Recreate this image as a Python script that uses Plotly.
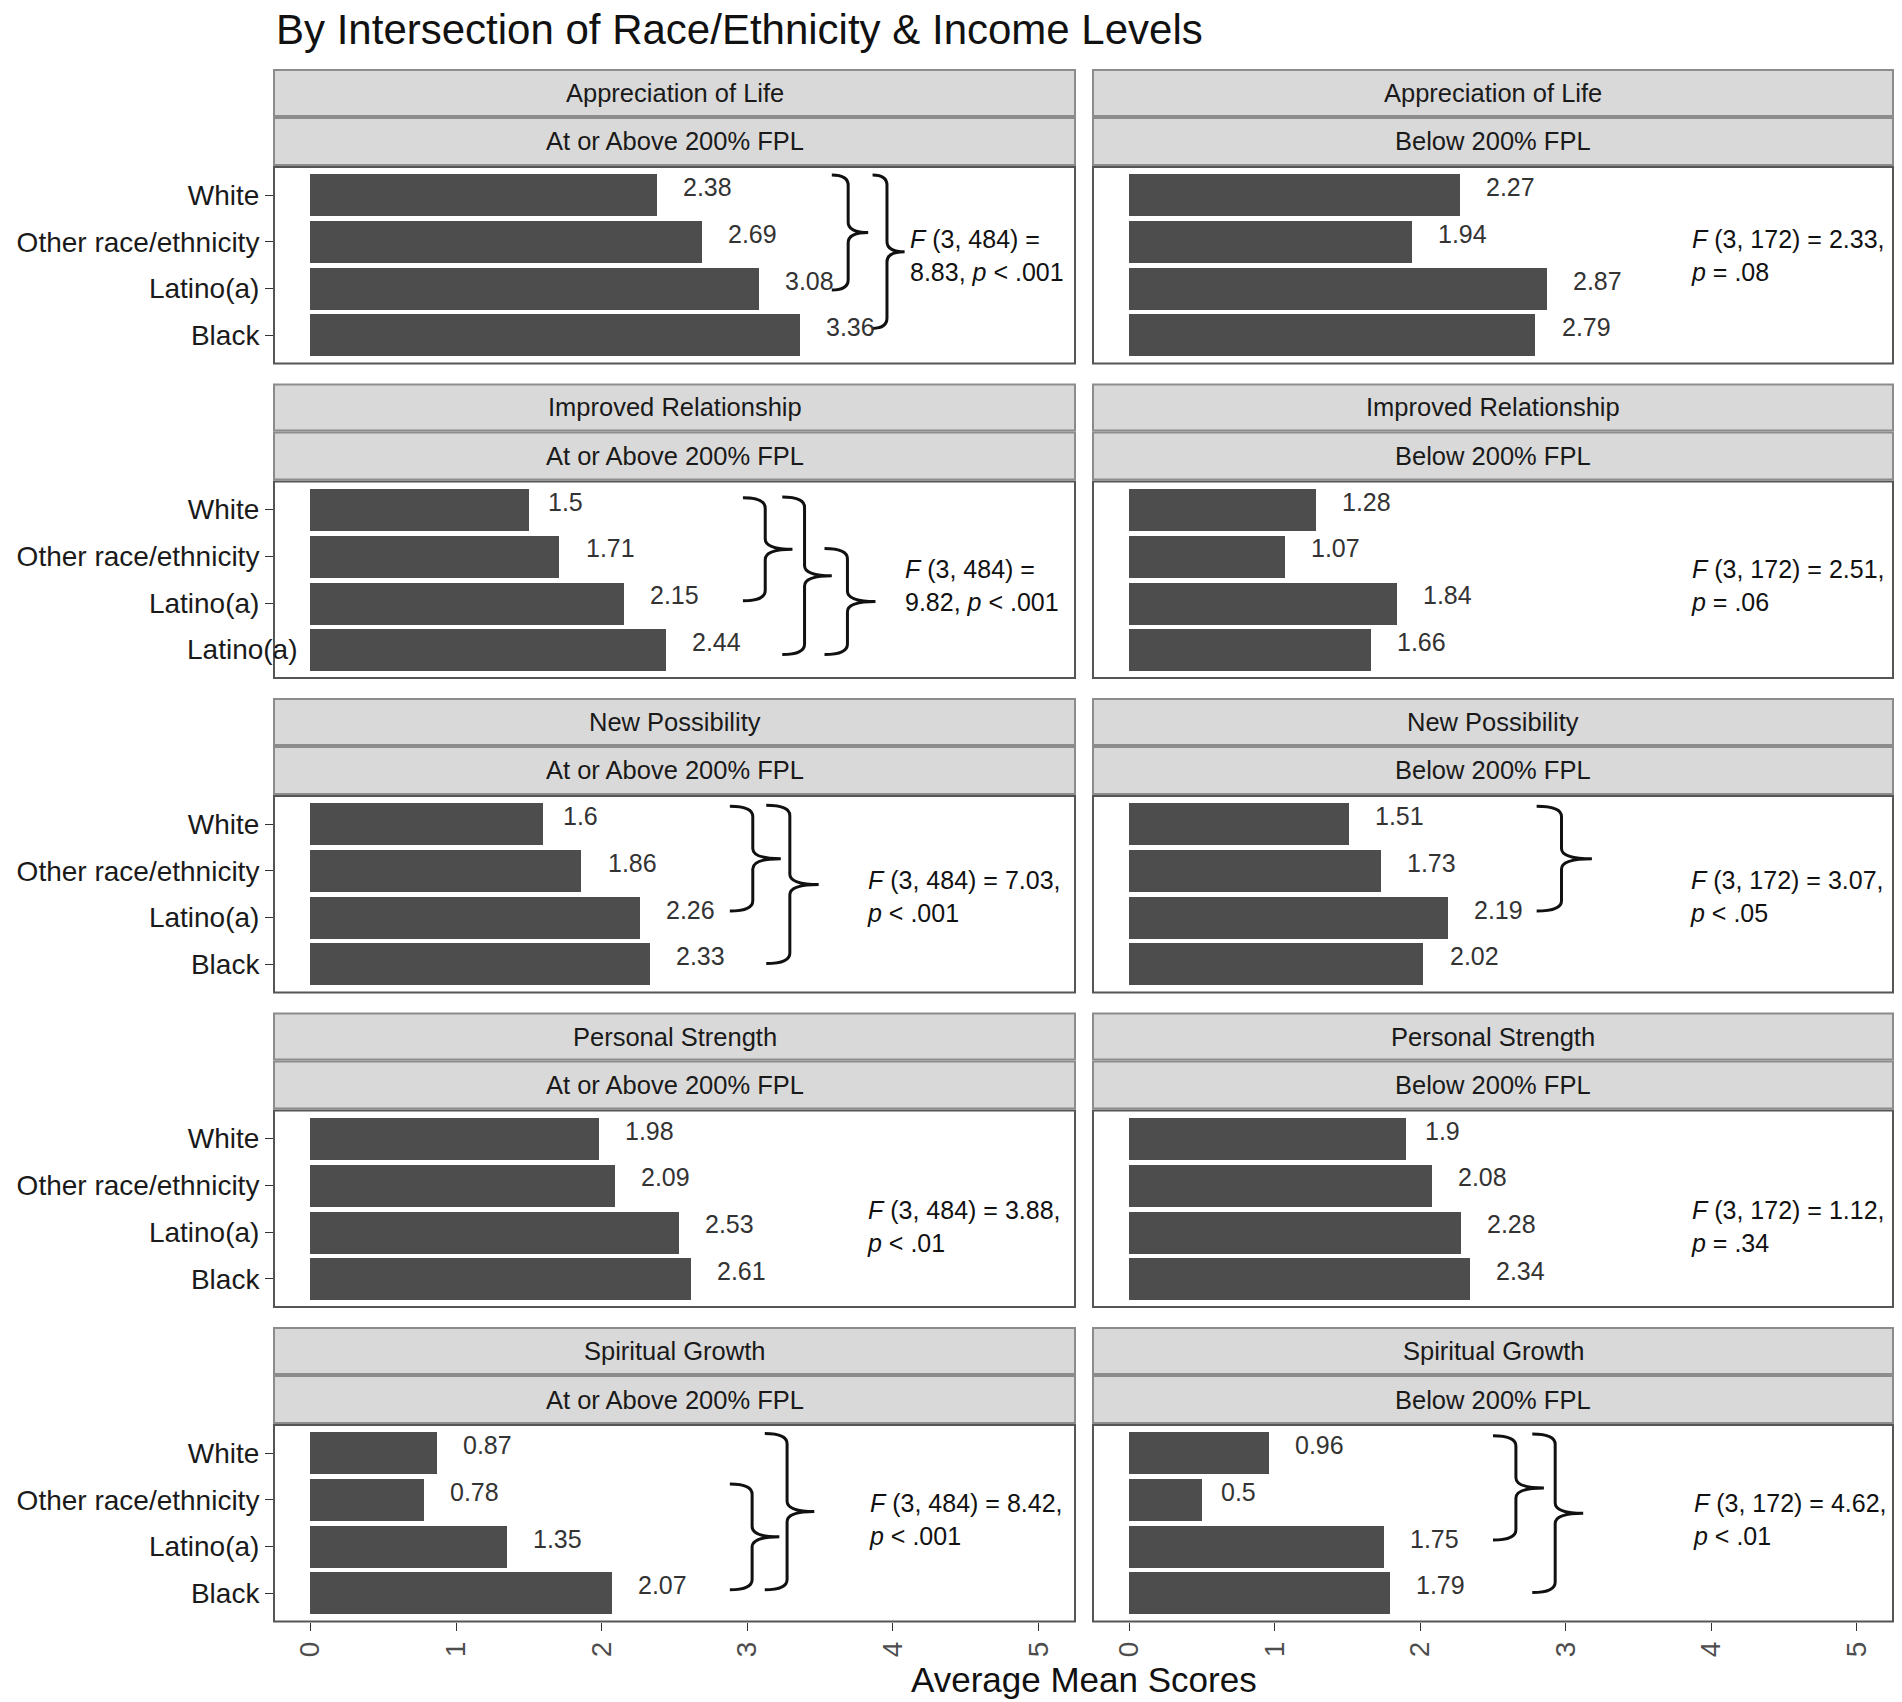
import plotly.graph_objects as go

# facet rows and columns
measures = ["Appreciation of Life", "Improved Relationship", "New Possibility",
            "Personal Strength", "Spiritual Growth"]
income_levels = ["At or Above 200% FPL", "Below 200% FPL"]
groups = ["White", "Other race/ethnicity", "Latino(a)", "Black"]

# average mean scores, in the order of `groups`
appreciation_above = [2.38, 2.69, 3.08, 3.36]
appreciation_below = [2.27, 1.94, 2.87, 2.79]
relationship_above = [1.5, 1.71, 2.15, 2.44]
relationship_below = [1.28, 1.07, 1.84, 1.66]
possibility_above = [1.6, 1.86, 2.26, 2.33]
possibility_below = [1.51, 1.73, 2.19, 2.02]
strength_above = [1.98, 2.09, 2.53, 2.61]
strength_below = [1.9, 2.08, 2.28, 2.34]
spiritual_above = [0.87, 0.78, 1.35, 2.07]
spiritual_below = [0.96, 0.5, 1.75, 1.79]

# the original figure labels the last bar of this panel "Latino(a)"
relationship_above_labels = ["White", "Other race/ethnicity", "Latino(a)", "Latino(a)"]

# ANOVA results per panel
f_above = ["<i>F</i> (3, 484) =<br>8.83, <i>p</i> &lt; .001",
           "<i>F</i> (3, 484) =<br>9.82, <i>p</i> &lt; .001",
           "<i>F</i> (3, 484) = 7.03,<br><i>p</i> &lt; .001",
           "<i>F</i> (3, 484) = 3.88,<br><i>p</i> &lt; .01",
           "<i>F</i> (3, 484) = 8.42,<br><i>p</i> &lt; .001"]
f_below = ["<i>F</i> (3, 172) = 2.33,<br><i>p</i> = .08",
           "<i>F</i> (3, 172) = 2.51,<br><i>p</i> = .06",
           "<i>F</i> (3, 172) = 3.07,<br><i>p</i> &lt; .05",
           "<i>F</i> (3, 172) = 1.12,<br><i>p</i> = .34",
           "<i>F</i> (3, 172) = 4.62,<br><i>p</i> &lt; .01"]

values = [[appreciation_above, appreciation_below],
          [relationship_above, relationship_below],
          [possibility_above, possibility_below],
          [strength_above, strength_below],
          [spiritual_above, spiritual_below]]
f_text = [list(pair) for pair in zip(f_above, f_below)]

# where the stats text sits (x in score units, y in group slots)
f_pos = [[(4.10, 2.29), (3.85, 2.29)],
         [(4.07, 2.62), (3.85, 2.62)],
         [(3.81, 2.54), (3.84, 2.54)],
         [(3.81, 2.88), (3.85, 2.88)],
         [(3.82, 2.42), (3.86, 2.42)]]

# post-hoc braces: row, col, top slot, bottom slot, left x, tip x
braces = [
    (0, 0, 0.57, 3.03, 3.58, 3.83),
    (0, 0, 0.57, 3.85, 3.86, 4.08),
    (1, 0, 0.75, 2.95, 2.97, 3.31),
    (1, 0, 0.73, 4.10, 3.24, 3.58),
    (1, 0, 1.83, 4.10, 3.53, 3.88),
    (2, 0, 0.62, 2.86, 2.88, 3.23),
    (2, 0, 0.60, 3.98, 3.13, 3.49),
    (2, 1, 0.62, 2.86, 2.80, 3.18),
    (4, 0, 1.66, 3.92, 2.88, 3.22),
    (4, 0, 0.58, 3.92, 3.12, 3.46),
    (4, 1, 0.63, 2.86, 2.50, 2.85),
    (4, 1, 0.59, 3.98, 2.77, 3.12),
]

W, H = 1902, 1702
col_px = [(274, 1075), (1093, 1893)]
row_top = [167 + r * 314.5 for r in range(5)]
panel_h = 196.5
FONT = "Liberation Sans, Arial, sans-serif"

fig = go.Figure()
shapes = []
annotations = []


def ax_id(r, c):
    n = r * 2 + c + 1
    return ("" if n == 1 else str(n))


def text_width(s, size):
    w = 0
    for ch in s:
        w += 0.278 if ch == "." else 0.556
    return w * size


def brace_path(y0, y1, x0, x1):
    xv = x0 + 0.45 * (x1 - x0)
    ym = (y0 + y1) / 2
    r = 0.22
    return (f"M {x0},{y0} Q {xv},{y0} {xv},{y0 + r} L {xv},{ym - r} "
            f"Q {xv},{ym} {x1},{ym} Q {xv},{ym} {xv},{ym + r} "
            f"L {xv},{y1 - r} Q {xv},{y1} {x0},{y1}")


layout_axes = {}
for r in range(5):
    for c in range(2):
        k = ax_id(r, c)
        x0, x1 = col_px[c]
        top = row_top[r]
        vals = values[r][c]
        pos = [1, 2, 3, 4]

        fig.add_trace(go.Bar(
            x=vals, y=pos, orientation="h", width=0.9,
            marker=dict(color="#4D4D4D", line=dict(width=0)),
            xaxis="x" + k, yaxis="y" + k, showlegend=False, hoverinfo="skip"))

        bottom_row = r == 4
        layout_axes["xaxis" + k] = dict(
            domain=[x0 / W, x1 / W], range=[-0.25, 5.25], anchor="y" + k,
            showgrid=False, zeroline=False, showline=False,
            tickvals=[0, 1, 2, 3, 4, 5],
            ticks="outside" if bottom_row else "", ticklen=8, tickwidth=1.2,
            tickcolor="#333333", showticklabels=bottom_row, tickangle=-90,
            tickfont=dict(family=FONT, size=28, color="#4D4D4D"))

        if r == 1 and c == 0:
            tv = pos[:3]
            tt = relationship_above_labels[:3]
        else:
            tv = pos
            tt = groups
        layout_axes["yaxis" + k] = dict(
            domain=[1 - (top + panel_h) / H, 1 - top / H], range=[4.6, 0.4],
            anchor="x" + k, showgrid=False, zeroline=False, showline=False,
            tickvals=tv, ticktext=tt, showticklabels=(c == 0),
            ticks="outside" if c == 0 else "", ticklen=8, tickwidth=1.2,
            tickcolor="#333333",
            tickfont=dict(family=FONT, size=28, color="#1A1A1A"))

        # panel border
        shapes.append(dict(type="rect", xref="paper", yref="paper",
                           x0=x0 / W, x1=x1 / W,
                           y0=1 - (top + panel_h) / H, y1=1 - top / H,
                           line=dict(color="#555555", width=2), layer="above"))
        # two strips
        for s, (a, b) in enumerate([(top - 97, top - 51), (top - 49, top - 2)]):
            shapes.append(dict(type="rect", xref="paper", yref="paper",
                               x0=x0 / W, x1=x1 / W, y0=1 - b / H, y1=1 - a / H,
                               fillcolor="#D9D9D9",
                               line=dict(color="#8C8C8C", width=2)))
            label = measures[r] if s == 0 else income_levels[c]
            annotations.append(dict(
                x=(x0 + x1) / 2 / W, y=1 - (a + b) / 2 / H, xref="paper", yref="paper",
                text=label, showarrow=False, xanchor="center", yanchor="middle",
                font=dict(family=FONT, size=25.5, color="#1A1A1A")))
        # value labels (hjust = -0.5 style)
        for v, p in zip(vals, pos):
            t = f"{v:g}"
            annotations.append(dict(
                x=v, y=p, xref="x" + k, yref="y" + k, text=t, showarrow=False,
                xanchor="left", yanchor="middle",
                xshift=0.5 * text_width(t, 25), yshift=8,
                font=dict(family=FONT, size=25, color="#333333")))
        # stats text
        fx, fy = f_pos[r][c]
        annotations.append(dict(
            x=fx, y=fy, xref="x" + k, yref="y" + k, text=f_text[r][c],
            showarrow=False, xanchor="left", yanchor="middle", align="left",
            font=dict(family=FONT, size=25, color="#111111")))

# the stray last label of the Improved Relationship / above panel
annotations.append(dict(
    x=-0.07, y=4, xref="x3", yref="y3", text=relationship_above_labels[3],
    showarrow=False, xanchor="right", yanchor="middle",
    font=dict(family=FONT, size=28, color="#1A1A1A")))

for r, c, y0, y1, bx0, bx1 in braces:
    k = ax_id(r, c)
    shapes.append(dict(type="path", xref="x" + k, yref="y" + k,
                       path=brace_path(y0, y1, bx0, bx1),
                       line=dict(color="#111111", width=3)))

annotations.append(dict(
    x=274 / W, y=1 - 30 / H, xref="paper", yref="paper",
    text="By Intersection of Race/Ethnicity & Income Levels", showarrow=False,
    xanchor="left", yanchor="middle",
    font=dict(family=FONT, size=42, color="#111111")))
annotations.append(dict(
    x=(274 + 1893) / 2 / W, y=1 - 1679 / H, xref="paper", yref="paper",
    text="Average Mean Scores", showarrow=False, xanchor="center", yanchor="middle",
    font=dict(family=FONT, size=35, color="#111111")))

fig.update_layout(
    width=W, height=H, margin=dict(l=0, r=0, t=0, b=0),
    paper_bgcolor="white", plot_bgcolor="white",
    shapes=shapes, annotations=annotations, bargap=0,
    **layout_axes)

# drop the default page margin so the figure fills the window exactly
fig.write_html("out.html", config={"displayModeBar": False},
               post_script="document.body.style.margin = '0';")
